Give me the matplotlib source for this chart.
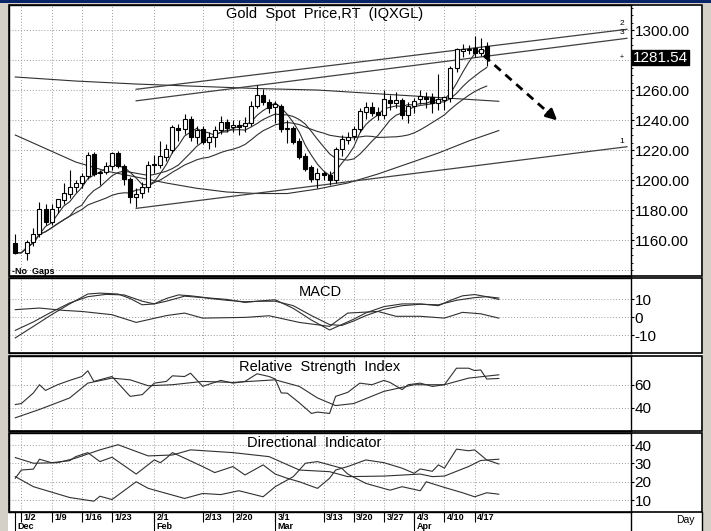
import numpy as np
import pandas as pd
import matplotlib
matplotlib.use("Agg")
import matplotlib.pyplot as plt
from matplotlib.patches import Rectangle

plt.rcParams['font.family'] = ['Liberation Sans', 'DejaVu Sans']

W, H = 711, 531

# ---- price data: trading day index (0 = Dec 30, 1 = Jan 2 holiday) ----
nan = np.nan
opens = [1158.2, nan, 1151.5, 1158.9, 1164.0, 1181.0, 1172.0, 1182.0, 1187.0, 1190.7,
         1195.5, 1197.8, 1202.7, 1217.3, 1204.5, 1205.5, 1209.3, 1218.2, 1209.3, 1200.7,
         1188.9, 1191.5, 1195.5, 1211.0, 1210.0, 1215.5, 1220.0, 1235.0, 1233.8, 1241.0,
         1228.9, 1233.8, 1225.5, 1228.5, 1233.3, 1238.9, 1235.5, 1237.0, 1236.0, 1237.8,
         1249.3, 1256.7, 1252.2, 1248.5, 1249.3, 1233.8, 1234.5, 1226.2, 1216.0, 1208.5,
         1200.5, 1204.5, 1203.3, 1200.0, 1220.5, 1227.0, 1229.3, 1233.8, 1245.5, 1248.5,
         1245.3, 1243.3, 1253.3, 1251.1, 1253.3, 1243.3, 1249.3, 1253.8, 1255.5, 1255.5,
         1251.5, 1253.3, 1254.5, 1274.5, 1286.0, 1286.5, 1287.8, 1285.0, 1289.3]
highs = [1164.0, nan, 1160.0, 1167.8, 1185.6, 1184.0, 1184.0, 1186.0, 1198.0, 1206.7,
         1200.0, 1205.0, 1218.9, 1219.0, 1207.0, 1212.0, 1219.0, 1219.5, 1211.0, 1202.0,
         1195.0, 1199.0, 1213.0, 1217.0, 1226.0, 1224.0, 1237.0, 1237.5, 1244.0, 1243.0,
         1236.0, 1236.0, 1232.0, 1236.0, 1243.0, 1241.0, 1240.0, 1240.0, 1242.0, 1253.0,
         1263.3, 1261.0, 1254.0, 1253.0, 1250.5, 1240.0, 1236.0, 1228.0, 1218.0, 1210.0,
         1208.0, 1206.0, 1206.0, 1222.0, 1230.0, 1232.0, 1236.0, 1248.0, 1252.0, 1252.0,
         1249.0, 1260.0, 1257.0, 1259.0, 1255.0, 1252.0, 1255.0, 1260.0, 1259.0, 1258.0,
         1271.0, 1256.0, 1276.0, 1288.0, 1291.0, 1290.0, 1296.0, 1295.0, 1292.0]
lows = [1150.7, nan, 1146.7, 1156.0, 1162.0, 1170.0, 1170.0, 1178.0, 1184.0, 1188.0,
        1192.0, 1195.0, 1201.0, 1203.0, 1196.7, 1204.0, 1207.0, 1208.0, 1197.0, 1184.7,
        1182.0, 1188.0, 1192.0, 1205.0, 1208.0, 1213.0, 1218.0, 1226.0, 1231.0, 1226.0,
        1224.0, 1224.0, 1221.0, 1222.0, 1231.0, 1232.0, 1232.0, 1230.0, 1232.0, 1236.0,
        1248.0, 1250.0, 1245.0, 1238.0, 1232.0, 1224.5, 1224.0, 1214.0, 1206.0, 1199.0,
        1195.0, 1200.0, 1196.5, 1198.0, 1216.0, 1224.0, 1227.0, 1232.0, 1241.0, 1243.0,
        1240.0, 1241.0, 1247.0, 1248.0, 1241.0, 1238.0, 1245.0, 1251.0, 1248.0, 1245.0,
        1247.0, 1246.7, 1252.0, 1272.0, 1282.0, 1284.0, 1282.0, 1283.0, 1276.0]
closes = [1151.5, nan, 1158.9, 1164.0, 1181.0, 1172.2, 1181.0, 1187.3, 1191.5, 1195.5,
          1197.8, 1202.7, 1216.7, 1204.0, 1205.5, 1209.3, 1217.8, 1209.3, 1200.7, 1188.5,
          1190.5, 1195.5, 1210.0, 1209.8, 1216.0, 1220.7, 1235.5, 1233.3, 1241.0, 1228.9,
          1233.3, 1225.5, 1228.5, 1233.3, 1238.9, 1234.5, 1236.5, 1235.5, 1237.8, 1249.3,
          1256.7, 1252.2, 1247.8, 1250.7, 1233.8, 1234.0, 1225.5, 1215.1, 1207.1, 1200.5,
          1204.5, 1203.3, 1200.0, 1220.5, 1227.1, 1229.0, 1233.8, 1246.2, 1248.9, 1244.9,
          1243.3, 1254.0, 1251.5, 1253.3, 1243.3, 1249.3, 1252.9, 1256.0, 1254.2, 1251.1,
          1253.8, 1255.5, 1274.5, 1287.1, 1287.5, 1287.5, 1284.5, 1287.3, 1281.54]
days = np.arange(len(closes))
last_price = 1281.54

# slower averages (day index, price)
ma50_day = [0, 5, 10, 15, 20, 25, 30, 35, 40, 45, 50, 55, 60, 65, 70, 75, 80]
ma50_val = [1230, 1221, 1212, 1206, 1202, 1198, 1194.5, 1192, 1191, 1191, 1194, 1198,
            1204, 1211, 1218, 1226, 1233]
ma200_day = [0, 10, 20, 30, 40, 50, 60, 70, 80]
ma200_val = [1268.7, 1266, 1264, 1262.5, 1261, 1260, 1257.5, 1255, 1252.5]

# trend lines (start day, start price, end day, end price, label)
trend_lines = [(20, 1181.1, 101.2, 1222.2, '1'),
               (20, 1260.5, 101.2, 1300.5, '2'),
               (20, 1252.8, 101.2, 1294.5, '3')]
arrow_from = (77.5, 1283.0)
arrow_to = (90.0, 1238.5)

# ---- indicators ----
macd_day = [0, 3, 6, 9, 12, 14, 17, 19, 21, 23, 25, 27, 29, 32, 35, 38, 40, 43, 46, 49,
            52, 54, 56, 58, 61, 64, 67, 70, 72, 74, 76, 78, 80]
macd_val = [-11.4, -5, 1.5, 7.5, 13, 13.5, 13, 10.5, 7, 7.5, 10.5, 12.5, 12, 10.8, 10,
            8.3, 9, 9.8, 5, -1.5, -7, -4, -1, 2.5, 6, 7.5, 7.5, 6.5, 9.5, 12, 12.7, 11.5, 10.8]
sig_day = [0, 3, 6, 9, 12, 15, 18, 21, 23, 25, 28, 31, 35, 38, 41, 43, 46, 49, 52, 54,
           56, 58, 61, 64, 67, 70, 73, 76, 78, 80]
sig_val = [-7.2, -2.5, 3, 8, 11.5, 12.8, 12.5, 9, 7.5, 9, 11.8, 11, 9.5, 8.7, 9, 9, 6.5,
           1, -4, -4.5, -2, 1, 4.5, 6.5, 7.3, 7, 9.5, 11, 11.5, 10]
hist_day = [0, 4, 8, 11, 16, 20, 25, 28, 31, 38, 42, 47, 52, 55, 60, 63, 67, 71, 74, 77, 80]
hist_val = [4.3, 5.2, 3.9, 3.3, 1.5, -2.8, 1, 2.4, -0.4, 0, 0.9, -2.8, -5, 2.4, 3.3, 0.6,
            0.6, -0.4, 2.8, 2, -0.4]

rsi_day = [0, 1, 3, 4, 5, 7, 9, 11, 12, 13, 16, 19, 21, 23, 25, 26, 28, 29, 31, 34, 36,
           38, 40, 42, 43, 44, 45, 47, 49, 50, 52, 53, 55, 57, 59, 61, 62, 64, 65, 67, 69,
           71, 73, 75, 76, 77, 78, 80]
rsi_val = [42.6, 43.5, 52.8, 60, 55, 60, 63.8, 67.2, 72.2, 62.9, 67.2, 49.8, 51.3, 61.4,
           62.9, 67.8, 67.2, 70.1, 58.6, 63.8, 61.4, 62.9, 69.6, 67.2, 65, 52.8, 52.6, 44.1,
           34.8, 36, 34.8, 49.8, 53.3, 61.4, 60, 63.8, 62, 55.7, 60, 61.4, 58.5, 60, 74.5,
           74.5, 72.4, 73, 65, 65.5]
rsi_ma_day = [0, 4, 9, 12, 16, 19, 22, 26, 31, 36, 43, 47, 50, 53, 56, 61, 66, 71, 75, 80]
rsi_ma_val = [31, 38.3, 48.4, 61.4, 65.8, 64.3, 59.1, 60, 62.9, 62, 64.3, 58.5, 48.4, 41.7,
              43.5, 54.2, 60, 60, 65.8, 68.7]

pdi_day = [0, 1, 3, 4, 6, 9, 10, 12, 14, 16, 20, 23, 24, 25, 26, 28, 31, 33, 36, 38, 41,
           43, 45, 47, 50, 52, 53, 55, 58, 61, 64, 66, 67, 69, 70, 71, 73, 75, 76, 78, 80]
pdi_val = [21.9, 26.4, 26.9, 32.3, 30.4, 31.5, 33.7, 35.9, 31, 33.4, 24.2, 31.9, 30.4,
           32.9, 35.9, 32.9, 28.3, 25, 28.3, 23.7, 29.2, 24.2, 21.9, 20, 16.4, 21.9, 26.4,
           28.3, 31.9, 30.4, 27.4, 24.6, 27, 25.7, 29.2, 27.4, 37.8, 36.9, 37.4, 31.9, 29.7]
adx_day = [0, 3, 7, 10, 14, 17, 22, 26, 29, 36, 42, 47, 52, 55, 61, 67, 69, 71, 75, 77, 80]
adx_val = [33.2, 30.1, 30.4, 32.9, 37.4, 40.2, 34.1, 34.6, 37.4, 35.9, 33.7, 26.4, 25.5,
           22.8, 23.1, 24.2, 22.8, 23.1, 28.3, 31.6, 32.3]
mdi_day = [0, 3, 9, 13, 14, 16, 20, 22, 28, 31, 34, 37, 41, 43, 46, 48, 50, 52, 54, 55,
           58, 62, 64, 67, 68, 71, 74, 76, 78, 80]
mdi_val = [22.8, 17.3, 11.4, 9.4, 12.1, 10.3, 20, 16.4, 10.9, 13.6, 13, 15.1, 11.8, 17.3,
           22.8, 30.1, 31, 29.2, 27.4, 24.2, 19.1, 15.4, 17.3, 15.1, 20, 16.9, 14, 11.8, 14,
           13.2]

tick_days = [1, 6, 11, 16, 23, 31, 36, 43, 51, 56, 61, 66, 71, 76]
tick_labels = ['1/2', '1/9', '1/16', '1/23', '2/1', '2/13', '2/20', '3/1', '3/13',
               '3/20', '3/27', '4/3', '4/10', '4/17']
month_days = [0, 23, 43, 66]
month_labels = ['Dec', 'Feb', 'Mar', 'Apr']

XLIM = (-1.04, 101.87)
LINE = '#303030'
GRID = '#9a9a9a'


def box(top, bottom, left=9, right=631):
    return [left / W, 1 - bottom / H, (right - left) / W, (bottom - top) / H]


fig = plt.figure(figsize=(W / 100, H / 100), dpi=100, facecolor='#d4d0c8')
fig.patches.append(Rectangle((8 / W, 0), 695 / W, 1 - 4 / H, transform=fig.transFigure,
                             facecolor='white', edgecolor='none', zorder=-10))
fig.patches.append(Rectangle((0, 1 - 3 / H), 1, 3 / H, transform=fig.transFigure,
                             facecolor='#0a246a', edgecolor='none', zorder=-10))

panels = [(5, 276), (278, 353), (356, 431), (433, 512)]
for top, bottom in panels:
    fig.patches.append(Rectangle((9 / W, 1 - bottom / H), 693 / W, (bottom - top) / H,
                                 transform=fig.transFigure, fill=False,
                                 edgecolor='black', lw=1.2, zorder=5))


def setup(ax, ylim, grid_y, label_y, fmt):
    ax.set_xlim(*XLIM)
    ax.set_ylim(*ylim)
    ax.set_facecolor('none')
    for s in ax.spines.values():
        s.set_color('black')
        s.set_linewidth(1.0)
    ax.set_xticks([])
    ax.yaxis.tick_right()
    ax.set_yticks(label_y)
    ax.set_yticklabels([fmt % v for v in label_y], fontsize=11)
    ax.tick_params(axis='y', length=2, pad=0.5, width=0.8)
    for g in grid_y:
        ax.axhline(g, color=GRID, lw=0.7, ls=(0, (1, 2)), zorder=1)
    for d in tick_days:
        ax.axvline(d, color=GRID, lw=0.7, ls=(0, (1, 2)), zorder=1)


# ---- main price panel ----
ax = fig.add_axes(box(5, 276))
setup(ax, (1136, 1316.7), range(1140, 1301, 20), list(range(1160, 1301, 20)), '%.2f')
# little $5 marks on the price scale
ax.hlines(np.arange(1140, 1316, 5), 1.0, 1.004, transform=ax.get_yaxis_transform(),
          color='black', lw=0.6, clip_on=False)

close_s = pd.Series(closes)
for win in (5, 10, 20):
    ax.plot(days, close_s.rolling(win, min_periods=1).mean(), color=LINE, lw=0.8, zorder=3)
ax.plot(ma50_day, ma50_val, color=LINE, lw=0.8, zorder=3)
ax.plot(ma200_day, ma200_val, color=LINE, lw=0.8, zorder=3)

for d0, p0, d1, p1, lab in trend_lines:
    ax.plot([d0, d1], [p0, p1], color='#404040', lw=0.9, zorder=3)
    ax.text(d1 - 0.4, p1 + 1.2, lab, fontsize=6, ha='right', va='bottom', zorder=6)

for d, o, h, l, c in zip(days, opens, highs, lows, closes):
    if np.isnan(c):
        continue
    ax.vlines(d, l, h, color='black', lw=0.8, zorder=4)
    up = c >= o
    ax.bar(d, max(abs(c - o), 0.6), bottom=min(o, c), width=0.66,
           color='white' if up else 'black', edgecolor='black', lw=0.8, zorder=5)

ax.plot([arrow_from[0], arrow_to[0] - 1.4], [arrow_from[1], arrow_to[1] + 5],
        color='black', lw=2, ls=(0, (3, 2.2)), zorder=6)
ax.annotate('', xy=arrow_to, xytext=(arrow_to[0] - 2.2, arrow_to[1] + 8),
            arrowprops=dict(arrowstyle='-|>', color='black', lw=2, mutation_scale=16),
            zorder=6)

ax.text(0.508, 0.967, 'Gold  Spot  Price,RT  (IQXGL)', transform=ax.transAxes,
        ha='center', va='center', fontsize=10.5)
ax.text(0.005, 0.018, '-No  Gaps', transform=ax.transAxes, ha='left', va='center',
        fontsize=6.5, fontweight='bold')
ax.text(1.003, last_price, '%.2f' % last_price, transform=ax.get_yaxis_transform(),
        ha='left', va='center', fontsize=11, color='white',
        bbox=dict(boxstyle='square,pad=0.05', facecolor='black', edgecolor='black'),
        zorder=7, clip_on=False)
ax.text(0.985, last_price, '+', transform=ax.get_yaxis_transform(), ha='center',
        va='center', fontsize=5)

# ---- MACD ----
ax2 = fig.add_axes(box(278, 353))
setup(ax2, (-19.8, 21.9), [-10, 0, 10], [-10, 0, 10], '%d')
ax2.plot(macd_day, macd_val, color=LINE, lw=0.8)
ax2.plot(sig_day, sig_val, color=LINE, lw=0.8)
ax2.plot(hist_day, hist_val, color=LINE, lw=0.8)
ax2.text(0.5, 0.82, 'MACD', transform=ax2.transAxes, ha='center', va='center',
         fontsize=10.5)

# ---- RSI ----
ax3 = fig.add_axes(box(356, 431))
setup(ax3, (19.4, 85.2), [40, 60], [40, 60], '%d')
ax3.plot(rsi_day, rsi_val, color=LINE, lw=0.8)
ax3.plot(rsi_ma_day, rsi_ma_val, color=LINE, lw=0.8)
ax3.text(0.5, 0.85, 'Relative  Strength  Index', transform=ax3.transAxes, ha='center',
         va='center', fontsize=10.5)

# ---- Directional Indicator ----
ax4 = fig.add_axes(box(433, 512))
setup(ax4, (3.5, 46.6), [10, 20, 30, 40], [10, 20, 30, 40], '%d')
ax4.plot(pdi_day, pdi_val, color=LINE, lw=0.8)
ax4.plot(adx_day, adx_val, color=LINE, lw=0.8)
ax4.plot(mdi_day, mdi_val, color=LINE, lw=0.8)
ax4.text(0.49, 0.87, 'Directional  Indicator', transform=ax4.transAxes, ha='center',
         va='center', fontsize=10.5)

# ---- date strip ----
axd = fig.add_axes(box(512, 531))
axd.set_xlim(*XLIM)
axd.set_ylim(0, 1)
axd.axis('off')
for d, lab in zip(tick_days, tick_labels):
    axd.vlines(d, 0.5, 1, color='black', lw=0.8)
    axd.text(d + 0.4, 0.72, lab, fontsize=6.5, fontweight='bold', ha='left', va='center')
for d, lab in zip(month_days, month_labels):
    axd.vlines(d, 0, 1, color='black', lw=0.8)
    axd.text(d + 0.4, 0.22, lab, fontsize=6.5, fontweight='bold', ha='left', va='center')
fig.text(685 / W, 1 - 520 / H, 'Day', fontsize=7.5, ha='center', va='center')
fig.add_artist(plt.Line2D([631 / W, 631 / W], [0, 1 - 512 / H], color='black', lw=1,
                          transform=fig.transFigure))
fig.add_artist(plt.Line2D([702 / W, 702 / W], [0, 1 - 512 / H], color='black', lw=1,
                          transform=fig.transFigure))

fig.savefig('out.png', dpi=100, facecolor=fig.get_facecolor())
